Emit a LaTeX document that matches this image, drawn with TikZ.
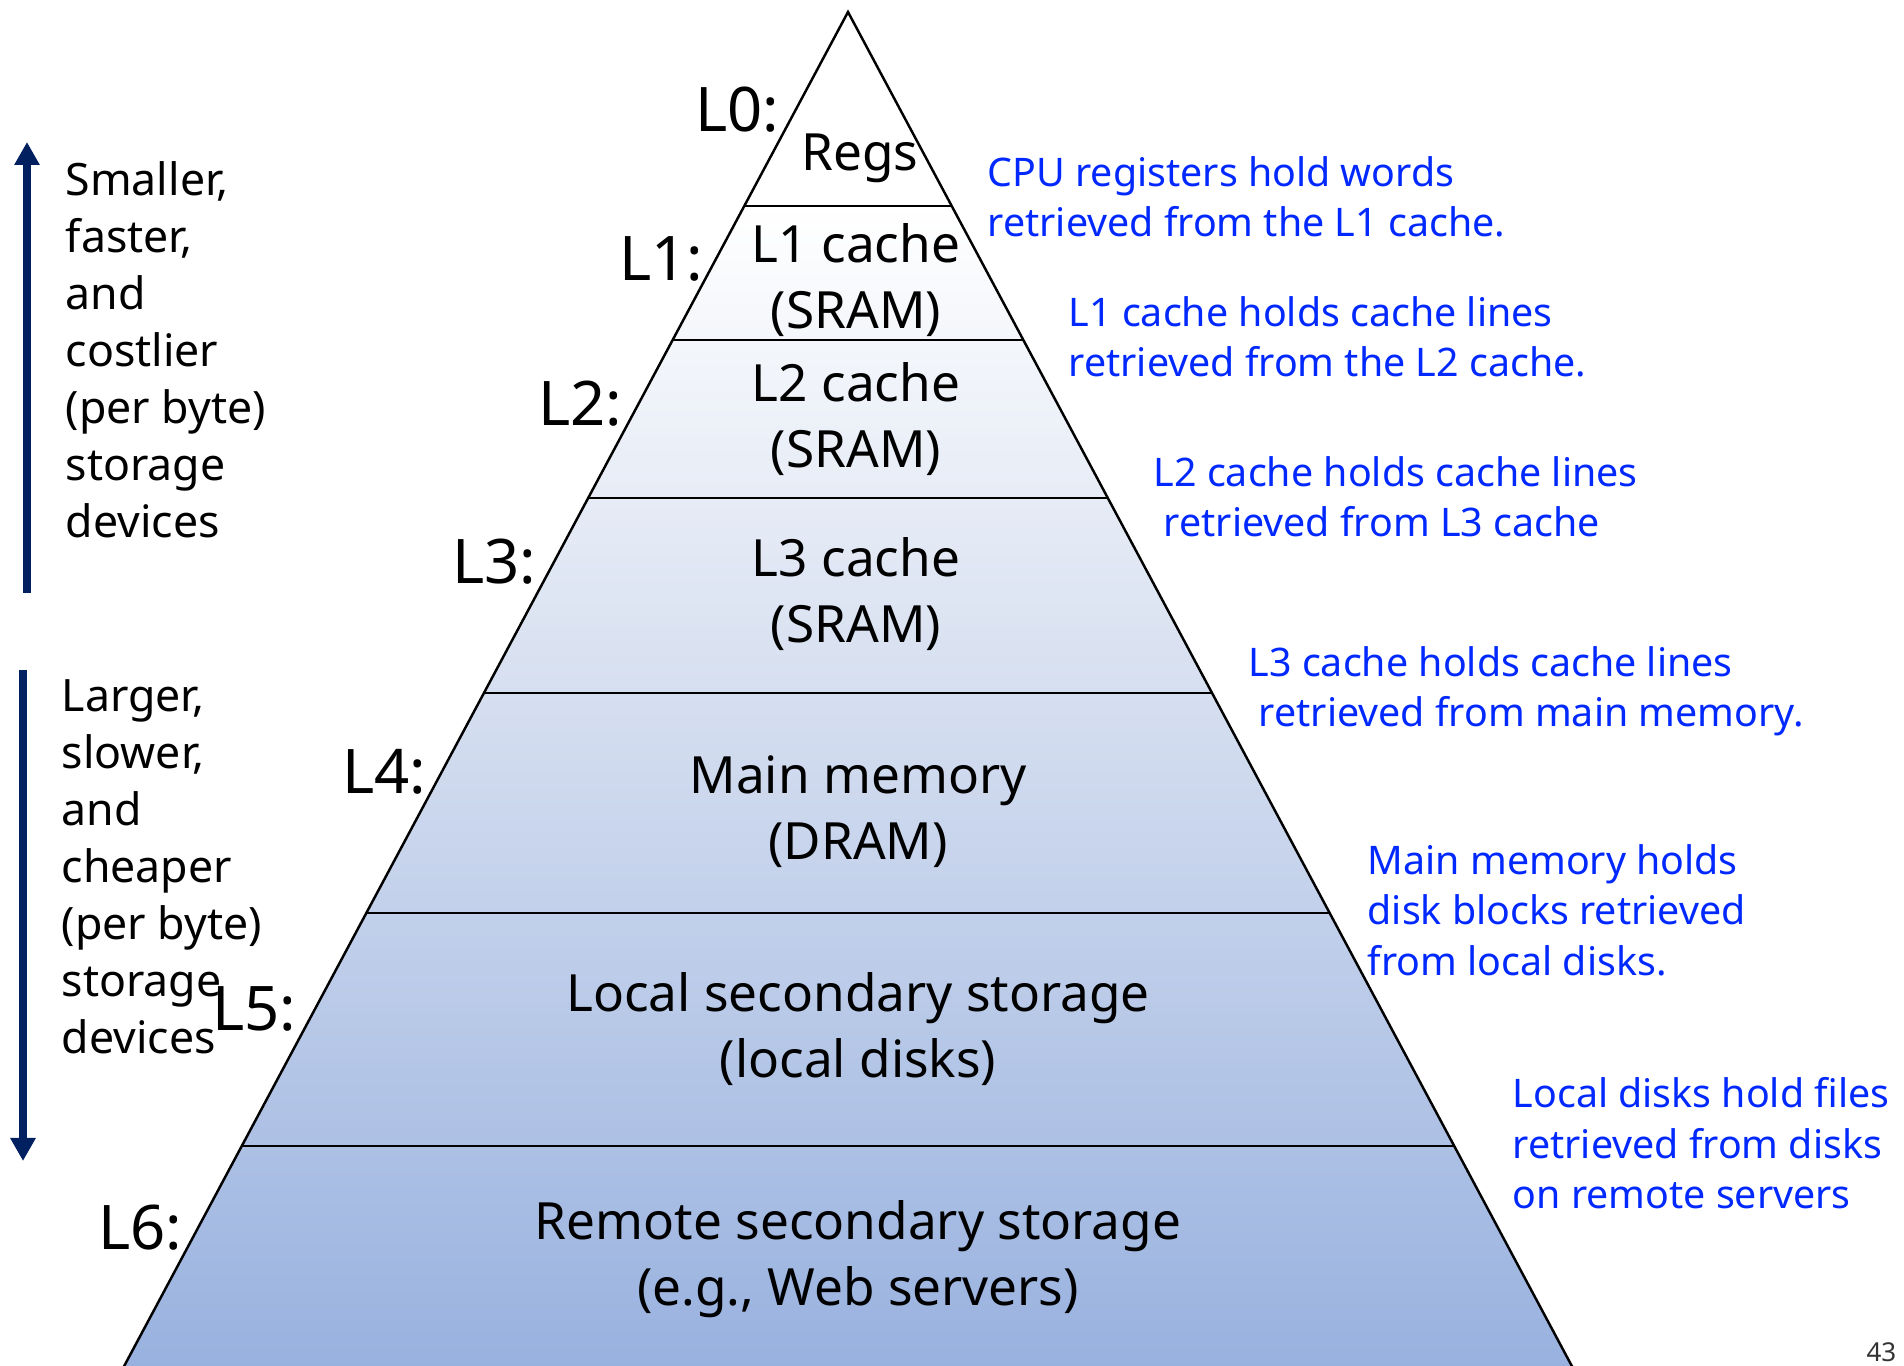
\documentclass[tikz,border=0pt]{standalone}
\usepackage{fontspec}
\setmainfont{Noto Sans}
\usetikzlibrary{arrows.meta}
\definecolor{navy}{RGB}{0,32,96}
\definecolor{noteblue}{RGB}{0,40,255}
\definecolor{pyrtop}{RGB}{255,255,255}
\definecolor{pyrmid}{RGB}{214,223,240}
\definecolor{pyrbot}{RGB}{149,175,222}

\begin{document}
\begin{tikzpicture}
%define
\tikzstyle{lvl} = [anchor=east, inner sep=0pt, font=\fontsize{17.5}{21}\selectfont]
\tikzstyle{tier} = [align=center, inner sep=0pt, font=\fontsize{14.6}{18.8}\selectfont]
\tikzstyle{note} = [anchor=north west, align=left, inner sep=0pt, text=noteblue, font=\fontsize{11.2}{14.3}\selectfont]
\tikzstyle{side} = [anchor=north west, align=left, inner sep=0pt, font=\fontsize{12.7}{16.2}\selectfont]
\tikzstyle{arrow} = [-{Triangle[width=0.24cm, length=0.23cm]}, navy, line width=0.08cm]
\tikzstyle{edge} = [line width=0.7pt]

\useasboundingbox (0,0) rectangle (19.04,-13.66);

%pyramid
\coordinate (top) at (8.48,-0.12);
\coordinate (bl) at (1.06,-14.0);
\coordinate (br) at (15.90,-14.0);
\begin{scope}
\clip(top)--(bl)--(br)--cycle;
\shade[top color=pyrtop, bottom color=pyrmid](0,-2.06)rectangle(19.04,-6.93);
\shade[top color=pyrmid, bottom color=pyrbot](0,-6.93)rectangle(19.04,-14.0);
\end{scope}
\draw[edge](bl)--(top)--(br);
%line
\draw[edge](7.44,-2.06)--(9.52,-2.06); %L0|L1
\draw[edge](6.73,-3.40)--(10.23,-3.40); %L1|L2
\draw[edge](5.88,-4.98)--(11.08,-4.98); %L2|L3
\draw[edge](4.84,-6.93)--(12.12,-6.93); %L3|L4
\draw[edge](3.66,-9.13)--(13.30,-9.13); %L4|L5
\draw[edge](2.42,-11.46)--(14.54,-11.46); %L5|L6

%tiers
\node[tier](tier_Regs) at (8.60,-1.58){Regs};
\node[tier](tier_L1) at (8.56,-2.80){L1 cache\\(SRAM)};
\node[tier](tier_L2) at (8.56,-4.19){L2 cache\\(SRAM)};
\node[tier](tier_L3) at (8.56,-5.94){L3 cache\\(SRAM)};
\node[tier](tier_L4) at (8.58,-8.12){Main memory\\(DRAM)};
\node[tier](tier_L5) at (8.58,-10.29){Local secondary storage\\(local disks)};
\node[tier](tier_L6) at (8.58,-12.59){Remote secondary storage\\(e.g., Web servers)};

%levels
\node[lvl](lvl_L0) at (7.80,-1.10){L0:};
\node[lvl](lvl_L1) at (7.04,-2.59){L1:};
\node[lvl](lvl_L2) at (6.23,-4.04){L2:};
\node[lvl](lvl_L3) at (5.37,-5.62){L3:};
\node[lvl](lvl_L4) at (4.27,-7.72){L4:};
\node[lvl](lvl_L5) at (2.97,-10.09){L5:};
\node[lvl](lvl_L6) at (1.83,-12.28){L6:};

%notes
\node[note](note_L0) at (9.87,-1.56){CPU registers hold words\\retrieved from the L1 cache.};
\node[note](note_L1) at (10.68,-2.96){L1 cache holds cache lines\\retrieved from the L2 cache.};
\node[note](note_L2) at (11.53,-4.56){L2 cache holds cache lines\\~retrieved from L3 cache};
\node[note](note_L3) at (12.48,-6.46){L3 cache holds cache lines\\~retrieved from main memory.};
\node[note](note_L4) at (13.67,-8.44){Main memory holds\\disk blocks retrieved\\from local disks.};
\node[note](note_L5) at (15.12,-10.77){Local disks hold files\\retrieved from disks\\on remote servers};

%side
\node[side](side_Up) at (0.65,-1.61){Smaller,\\faster,\\and\\costlier\\(per byte)\\storage\\devices};
\node[side](side_Down) at (0.61,-6.79){Larger,\\slower,\\and\\cheaper\\(per byte)\\storage\\devices};
\coordinate (up_Bot) at (0.27,-5.93);
\coordinate (up_Top) at (0.27,-1.42);
\coordinate (down_Top) at (0.23,-6.70);
\coordinate (down_Bot) at (0.23,-11.61);
\draw[arrow](up_Bot)--(up_Top);
\draw[arrow](down_Top)--(down_Bot);

%page
\node[anchor=north east, inner sep=0pt, text=black!80, font=\fontsize{7.4}{9}\selectfont](page_No) at (18.97,-13.42){43};

\end{tikzpicture}
\end{document}
